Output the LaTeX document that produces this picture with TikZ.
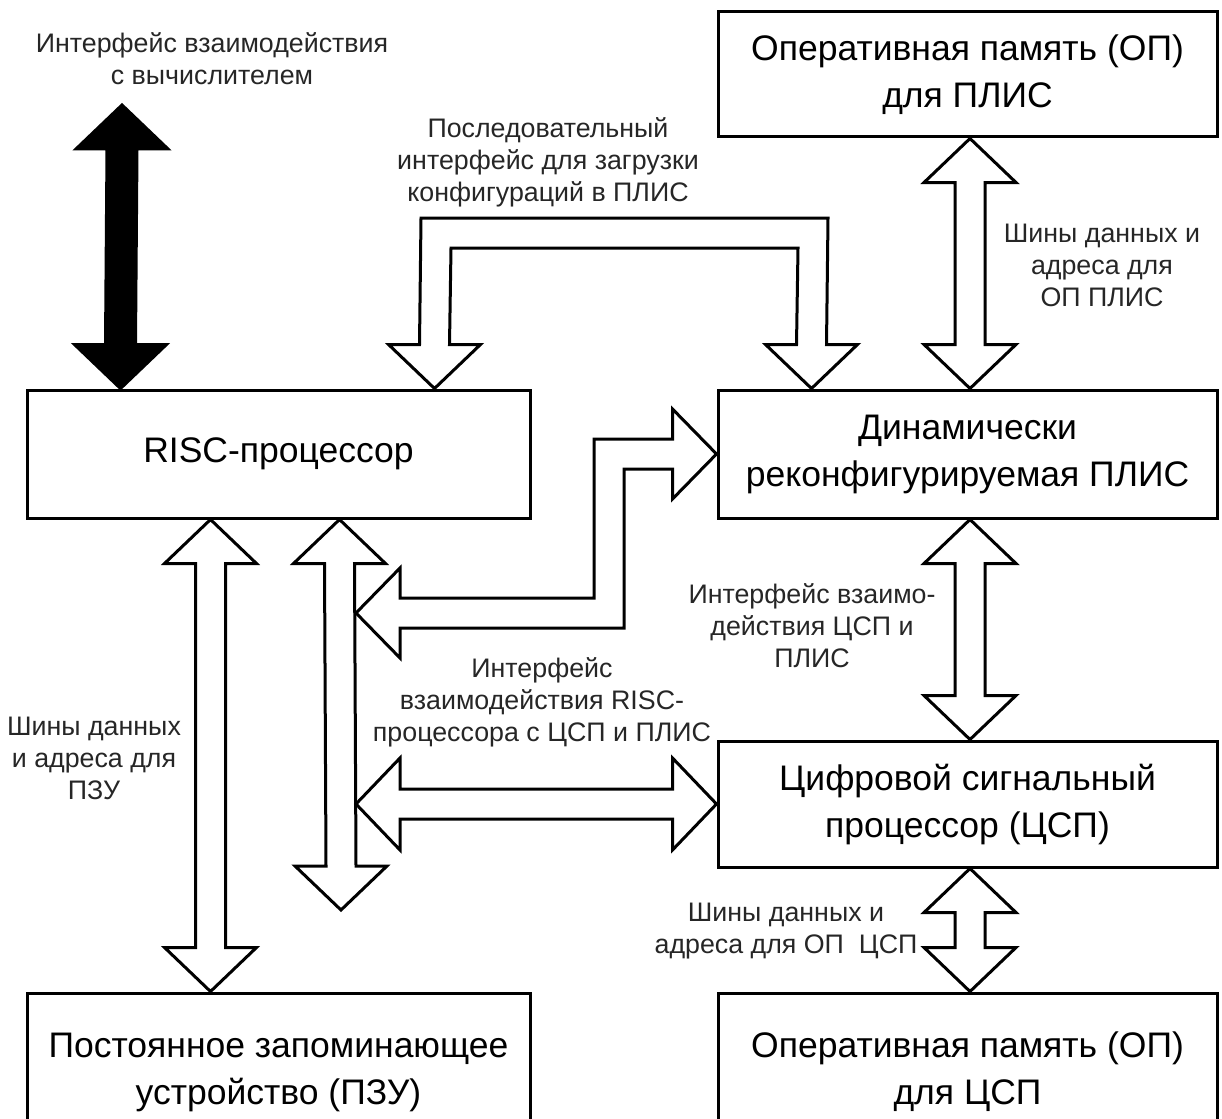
\documentclass[tikz,border=0pt]{standalone}
\usepackage{fontspec}
\setmainfont{Liberation Sans}
\usetikzlibrary{calc}

% vertical double-headed bus arrow between two tips with the same x
\newcommand\vbus[3][bus]{%
  \draw[#1] (#2) -- ($(#2)+(46,44)$) -- ($(#2)+(15,44)$) -- ($(#3)+(15,-44)$)
    -- ($(#3)+(46,-44)$) -- (#3) -- ($(#3)+(-46,-44)$) -- ($(#3)+(-15,-44)$)
    -- ($(#2)+(-15,44)$) -- ($(#2)+(-46,44)$) -- cycle;}
% horizontal double-headed bus arrow between two tips with the same y
\newcommand\hbus[2]{%
  \draw[bus] (#1) -- ($(#1)+(44,-46)$) -- ($(#1)+(44,-15)$) -- ($(#2)+(-44,-15)$)
    -- ($(#2)+(-44,-46)$) -- (#2) -- ($(#2)+(-44,46)$) -- ($(#2)+(-44,15)$)
    -- ($(#1)+(44,15)$) -- ($(#1)+(44,46)$) -- cycle;}

\begin{document}
\begin{tikzpicture}[x=1pt,y=-1pt,
  block/.style={draw, line width=3pt, align=center, inner sep=0pt,
    font=\fontsize{35.5}{47}\selectfont},
  leftblock/.style={block, minimum width=503pt},
  rightblock/.style={block, minimum width=499pt},
  lbl/.style={align=center, inner sep=0pt, text=black!85,
    font=\fontsize{26.8}{32}\selectfont},
  bus/.style={draw, fill=white, line width=3pt, line join=miter},
  hostbus/.style={bus, fill=black}]

\useasboundingbox (0,0) rectangle (1222,1118);
\clip (0,0) rectangle (1222,1118);

% functional blocks
\node[leftblock, minimum height=128pt] (risc) at (278.5,454) {RISC-процессор};
\node[leftblock, minimum height=158pt] (rom) at (278.5,1072)
  {Постоянное запоминающее\\устройство (ПЗУ)};
\node[rightblock, minimum height=125pt] (ramf) at (967.5,74.5)
  {Оперативная память (ОП)\\для ПЛИС};
\node[rightblock, minimum height=128pt] (fpga) at (967.5,454)
  {Динамически\\реконфигурируемая ПЛИС};
\node[rightblock, minimum height=126pt] (dsp) at (967.5,804)
  {Цифровой сигнальный\\процессор (ЦСП)};
\node[rightblock, minimum height=158pt] (ramd) at (967.5,1072)
  {Оперативная память (ОП)\\для ЦСП};

% bus end points
\coordinate (hostend) at (122,105);
\coordinate (risctop) at ($(risc.north west)+(95,0)$);
\coordinate (romup) at ($(risc.south west)+(185,0)$);
\coordinate (romdn) at ($(rom.north west)+(185,0)$);
\coordinate (sysup) at ($(risc.south west)+(314,0)$);
\coordinate (sysdn) at (341,910);
\coordinate (ramfdn) at ($(ramf.south)+(2.5,0)$);
\coordinate (fpgaup) at ($(fpga.north)+(2.5,0)$);
\coordinate (fpgadn) at ($(fpga.south)+(2.5,0)$);
\coordinate (dspup) at ($(dsp.north)+(2.5,0)$);
\coordinate (dspdn) at ($(dsp.south)+(2.5,0)$);
\coordinate (ramdup) at ($(ramd.north)+(2.5,0)$);
\coordinate (cfgl) at ($(risc.north west)+(409,0)$);
\coordinate (cfgr) at ($(fpga.north west)+(95,0)$);
\coordinate (sysjoin) at (356,613);
\coordinate (dspjoin) at (356,804);

% vertical buses
\vbus[hostbus]{hostend}{risctop}
\vbus{romup}{romdn}
\vbus{sysup}{sysdn}
\vbus{ramfdn}{fpgaup}
\vbus{fpgadn}{dspup}
\vbus{dspdn}{ramdup}

% RISC <-> DSP bus
\hbus{dspjoin}{dsp.west}

% RISC <-> FPGA bus
\draw[bus] (sysjoin) -- ($(sysjoin)+(44,-45)$) -- ($(sysjoin)+(44,-15)$)
  -- (594,598) -- (594,439) -- ($(fpga.west)+(-44,-15)$) -- ($(fpga.west)+(-44,-45)$)
  -- (fpga.west) -- ($(fpga.west)+(-44,45)$) -- ($(fpga.west)+(-44,15)$)
  -- (624,469) -- (624,628) -- ($(sysjoin)+(44,15)$) -- ($(sysjoin)+(44,45)$) -- cycle;

% serial configuration interface
\draw[bus] (cfgl) -- ($(cfgl)+(-46,-44)$) -- ($(cfgl)+(-15,-44)$) -- (421,218)
  -- (828,218) -- ($(cfgr)+(15,-44)$) -- ($(cfgr)+(46,-44)$) -- (cfgr)
  -- ($(cfgr)+(-46,-44)$) -- ($(cfgr)+(-15,-44)$) -- (798,248) -- (451,248)
  -- ($(cfgl)+(15,-44)$) -- ($(cfgl)+(46,-44)$) -- cycle;

% labels
\node[lbl] (lhost) at (212,59) {Интерфейс взаимодействия\\с вычислителем};
\node[lbl] (lcfg) at (548,162) {Последовательный\\интерфейс для загрузки\\конфигураций в ПЛИС};
\node[lbl] (lramf) at (1102,265) {Шины данных и\\адреса для\\ОП ПЛИС};
\node[lbl] (ldspf) at (812,626) {Интерфейс взаимо-\\действия ЦСП и\\ПЛИС};
\node[lbl] (lsys) at (542,702) {Интерфейс\\взаимодействия RISC-\\процессора с ЦСП и ПЛИС};
\node[lbl] (lrom) at (94,758) {Шины данных\\и адреса для\\ПЗУ};
\node[lbl] (lramd) at (786,931) {Шины данных и\\адреса для ОП\ \ ЦСП};
\end{tikzpicture}
\end{document}
